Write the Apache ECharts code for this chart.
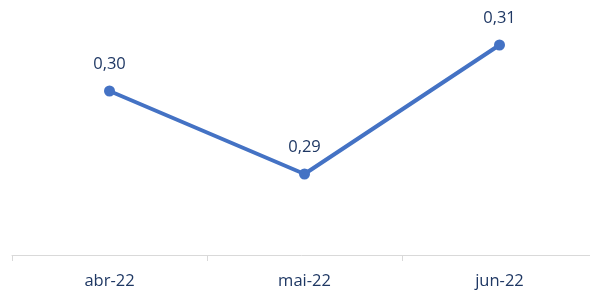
<!DOCTYPE html>
<html>
<head>
<meta charset="utf-8">
<script src="https://cdn.jsdelivr.net/npm/echarts@6/dist/echarts.min.js"></script>
<style>html,body{margin:0;padding:0;background:#fff}#main{width:590px;height:293px}</style>
</head>
<body>
<div id="main"></div>
<script>
// meses
var categories = ['abr-22', 'mai-22', 'jun-22'];
// valores (estimados da imagem)
var values = [0.3017, 0.2934, 0.3063];

var chart = echarts.init(document.getElementById('main'));
chart.setOption({
	animation: false,
	grid: { left: 12, right: -7, top: 5, bottom: 38, outerBoundsMode: 'none' },
	xAxis: {
		type: 'category',
		data: categories,
		boundaryGap: true,
		axisLine: { lineStyle: { color: '#d9d9d9', width: 1 } },
		axisTick: { show: true, length: 6, lineStyle: { color: '#d9d9d9' } },
		axisLabel: { color: '#1f3864', fontSize: 16.5, fontFamily: 'Open Sans', margin: 18 }
	},
	yAxis: {
		type: 'value',
		min: 0.2853,
		max: 0.3103,
		show: false
	},
	series: [{
		type: 'line',
		data: values,
		symbol: 'circle',
		symbolSize: 11,
		lineStyle: { color: '#4472c4', width: 4 },
		itemStyle: { color: '#4472c4' },
		label: {
			show: true,
			position: 'top',
			distance: 13,
			color: '#1f3864',
			fontSize: 16.5,
			fontFamily: 'Open Sans',
			formatter: function (p) { return p.value.toFixed(2).replace('.', ','); }
		}
	}]
});
</script>
</body>
</html>
